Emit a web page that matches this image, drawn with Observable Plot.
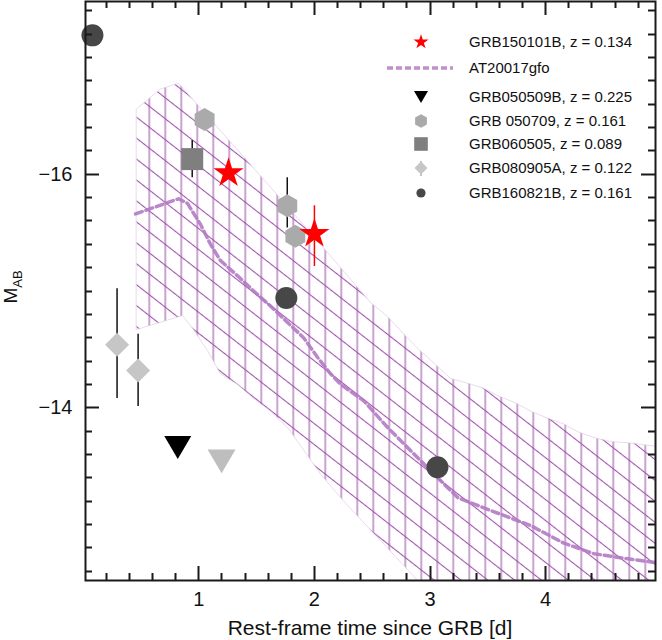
<!DOCTYPE html>
<html>
<head>
<meta charset="utf-8">
<script src="https://cdn.jsdelivr.net/npm/d3@7"></script>
<script src="https://cdn.jsdelivr.net/npm/@observablehq/plot@0.6"></script>
<style>
  html, body { margin: 0; padding: 0; background: #fff; }
  #chart { width: 662px; height: 640px; }
</style>
</head>
<body>
<svg width="0" height="0" style="position:absolute">
  <defs>
    <pattern id="hatchV" patternUnits="userSpaceOnUse" x="-3.2" y="0" width="16" height="16">
      <path d="M8,0V16" stroke="#9e55aa" stroke-width="1.1"/>
    </pattern>
    <pattern id="hatchD" patternUnits="userSpaceOnUse" width="16.5" height="16.5" patternTransform="rotate(38)">
      <path d="M0,8.25H16.5" stroke="#9e55aa" stroke-width="1.1"/>
    </pattern>
  </defs>
</svg>
<div id="chart"></div>
<script>
// ---------- data ----------
// GRB150101B, z = 0.134 (red stars)
const grb150101bT  = [1.257, 2.0];
const grb150101bM  = [-16.01, -15.49];
const grb150101bLo = [null, -15.73];
const grb150101bHi = [null, -15.21];

// GRB050509B, z = 0.225 (down triangle, upper limit) and an extra grey limit
const grb050509bT = [0.818];
const grb050509bM = [-13.66];
const grayLimitT = [1.197];
const grayLimitM = [-13.54];

// GRB 050709, z = 0.161 (hexagons)
const grb050709T  = [1.05, 1.765, 1.835];
const grb050709M  = [-16.47, -15.73, -15.47];
const grb050709Lo = [null, -15.97, null];
const grb050709Hi = [null, -15.54, null];

// GRB060505, z = 0.089 (square)
const grb060505T  = [0.943];
const grb060505M  = [-16.13];
const grb060505Lo = [-16.29];
const grb060505Hi = [-15.97];

// GRB080905A, z = 0.122 (diamonds)
const grb080905aT  = [0.293, 0.475];
const grb080905aM  = [-14.54, -14.32];
const grb080905aLo = [-15.02, -14.63];
const grb080905aHi = [-14.08, -14.01];

// GRB160821B, z = 0.161 (circles)
const grb160821bT = [0.08, 1.757, 3.064];
const grb160821bM = [-17.19, -14.94, -13.49];

// AT2017gfo light curve (dashed)
const at2017gfoT = [0.453, 0.824, 0.902, 1.015, 1.101, 1.188, 1.335, 1.474, 1.621, 1.768, 1.906, 2.028, 2.140, 2.227, 2.426, 2.634, 2.835, 3.065, 3.24, 3.524, 3.871, 4.157, 4.417, 4.677, 4.98];
const at2017gfoM = [-15.66, -15.79, -15.75, -15.57, -15.40, -15.26, -15.13, -15.00, -14.87, -14.73, -14.60, -14.43, -14.29, -14.20, -14.06, -13.83, -13.63, -13.40, -13.23, -13.12, -12.99, -12.84, -12.75, -12.71, -12.67];

// hatched model band: upper and lower edges
const bandUpperT = [0.461, 0.668, 0.824, 1.535, 2.0, 2.487, 2.634, 2.764, 2.902, 3.049, 3.179, 3.326, 3.456, 3.595, 3.742, 3.872, 4.019, 4.157, 4.287, 4.435, 4.565, 4.712, 4.954];
const bandUpperM = [-16.56, -16.73, -16.78, -15.985, -15.46, -14.90, -14.78, -14.64, -14.50, -14.37, -14.25, -14.21, -14.17, -14.10, -14.04, -13.97, -13.91, -13.86, -13.79, -13.74, -13.71, -13.70, -13.67];
const bandLowerT = [0.461, 0.859, 0.946, 1.075, 1.188, 1.335, 1.474, 1.621, 1.768, 1.855, 2.054, 2.253, 2.573, 2.893, 3.179, 3.61, 4.954];
const bandLowerM = [-14.67, -14.79, -14.68, -14.49, -14.29, -14.20, -14.08, -13.97, -13.83, -13.71, -13.43, -13.20, -12.86, -12.52, -12.22, -11.92, -11.49];

// axes
const xDomain = [0.02, 4.95];
const yDomain = [-17.48, -12.52];
const xMajorTicks = [1, 2, 3, 4];
const yMajorTicks = [-16, -14];
const xMinorTicks = [0.2, 0.4, 0.6, 0.8, 1.2, 1.4, 1.6, 1.8, 2.2, 2.4, 2.6, 2.8, 3.2, 3.4, 3.6, 3.8, 4.2, 4.4, 4.6, 4.8];
const yMinorTicks = [-17.4, -17.2, -17.0, -16.8, -16.6, -16.4, -16.2, -15.8, -15.6, -15.4, -15.2, -15.0, -14.8, -14.6, -14.4, -14.2, -13.8, -13.6, -13.4, -13.2, -13.0, -12.8, -12.6];
const xLabel = "Rest-frame time since GRB [d]";
const legendLabels = ["GRB150101B, z = 0.134", "AT20017gfo", "GRB050509B, z = 0.225", "GRB 050709, z = 0.161", "GRB060505, z = 0.089", "GRB080905A, z = 0.122", "GRB160821B, z = 0.161"];

// ---------- helpers ----------
const rows = (t, m, lo, hi) => t.map((d, i) => ({t: d, m: m[i], lo: lo ? lo[i] : null, hi: hi ? hi[i] : null}));
const errs = (r) => r.filter(d => d.lo != null && d.hi != null);

const s150101b = rows(grb150101bT, grb150101bM, grb150101bLo, grb150101bHi);
const s050509b = rows(grb050509bT, grb050509bM);
const sGrayLim = rows(grayLimitT, grayLimitM);
const s050709 = rows(grb050709T, grb050709M, grb050709Lo, grb050709Hi);
const s060505 = rows(grb060505T, grb060505M, grb060505Lo, grb060505Hi);
const s080905a = rows(grb080905aT, grb080905aM, grb080905aLo, grb080905aHi);
const s160821b = rows(grb160821bT, grb160821bM);
const sKilonova = rows(at2017gfoT, at2017gfoM);
const band = [
  ...bandUpperT.map((t, i) => ({t, m: bandUpperM[i]})),
  ...bandLowerT.map((t, i) => ({t, m: bandLowerM[i]})).reverse()
];

// custom symbols (radius r = sqrt(size/PI))
const rOf = size => Math.sqrt(size / Math.PI);
const symHexagon = {draw(c, size) { const r = rOf(size); for (let i = 0; i < 6; i++) { const a = -Math.PI / 2 + i * Math.PI / 3; const x = r * Math.cos(a), y = r * Math.sin(a); if (i) c.lineTo(x, y); else c.moveTo(x, y); } c.closePath(); }};
const symSquare = {draw(c, size) { const r = rOf(size); c.moveTo(-r, -r); c.lineTo(r, -r); c.lineTo(r, r); c.lineTo(-r, r); c.closePath(); }};
const symDiamond = {draw(c, size) { const r = rOf(size); c.moveTo(0, -r); c.lineTo(r, 0); c.lineTo(0, r); c.lineTo(-r, 0); c.closePath(); }};
const symTriDown = {draw(c, size) { const r = rOf(size); c.moveTo(-r, -0.85 * r); c.lineTo(r, -0.85 * r); c.lineTo(0, 0.85 * r); c.closePath(); }};
const symCircle = {draw(c, size) { const r = rOf(size); c.moveTo(r, 0); c.arc(0, 0, r, 0, 2 * Math.PI); c.closePath(); }};

// ---------- layout ----------
const W = 662, H = 640, mL = 85, mR = 7, mT = 1, mB = 60;
const minorLen = 7, majorLen = 14;
const axisColor = "#1a1a1a";
const font = "'Liberation Sans', Arial, Helvetica, sans-serif";
const purple = "#b27ac4";
const fmt = d => (d < 0 ? "\u2212" : "") + Math.abs(d);

const chart = Plot.plot({
  width: W, height: H,
  marginLeft: mL, marginRight: mR, marginTop: mT, marginBottom: mB,
  style: {fontFamily: font, fontSize: "20px", color: "#111", background: "#fff"},
  x: {domain: xDomain, ticks: xMajorTicks, tickSize: 0, tickPadding: 11, label: null, tickFormat: fmt},
  y: {domain: yDomain, reverse: true, ticks: yMajorTicks, tickSize: 0, tickPadding: 13, label: null, tickFormat: fmt},
  marks: [
    // hatched model band
    Plot.line(band, {x: "t", y: "m", curve: "linear-closed", fill: "url(#hatchV)", stroke: "none", clip: true}),
    Plot.line(band, {x: "t", y: "m", curve: "linear-closed", fill: "url(#hatchD)", stroke: "#dcc3e3", strokeWidth: 1, strokeOpacity: 0.6, clip: true}),
    // AT2017gfo
    Plot.line(sKilonova, {x: "t", y: "m", stroke: purple, strokeWidth: 3.5, strokeDasharray: "7,4", strokeOpacity: 0.9, clip: true}),
    // error bars
    Plot.ruleX(errs(s150101b), {x: "t", y1: "lo", y2: "hi", stroke: "#ff0000", strokeWidth: 1.5}),
    Plot.ruleX(errs(s050709), {x: "t", y1: "lo", y2: "hi", stroke: "#111", strokeWidth: 1.5}),
    Plot.ruleX(errs(s060505), {x: "t", y1: "lo", y2: "hi", stroke: "#111", strokeWidth: 1.5}),
    Plot.ruleX(errs(s080905a), {x: "t", y1: "lo", y2: "hi", stroke: "#111", strokeWidth: 1.5}),
    // points
    Plot.dot(s080905a, {x: "t", y: "m", symbol: symDiamond, r: 12, fill: "#c6c6c6", stroke: "none"}),
    Plot.dot(s050509b, {x: "t", y: "m", symbol: symTriDown, r: 13.5, fill: "#000", stroke: "none"}),
    Plot.dot(sGrayLim, {x: "t", y: "m", symbol: symTriDown, r: 14, fill: "#bebebe", stroke: "none"}),
    Plot.dot(s060505, {x: "t", y: "m", symbol: symSquare, r: 11, fill: "#7f7f7f", stroke: "none"}),
    Plot.dot(s050709, {x: "t", y: "m", symbol: symHexagon, r: 11.5, fill: "#aaaaaa", stroke: "none"}),
    Plot.dot(s160821b, {x: "t", y: "m", symbol: symCircle, r: 11, fill: "#474747", stroke: "none"}),
    Plot.dot(s150101b, {x: "t", y: "m", symbol: "star", r: 9.45, fill: "#ff0000", stroke: "none"}),
    Plot.frame({stroke: axisColor, strokeWidth: 2})
  ]
});

document.getElementById("chart").appendChild(chart);

const svg = d3.select(chart);

// ---------- inward ticks on all four sides (positions from Plot's scales) ----------
const xs = chart.scale("x"), ys = chart.scale("y");
const X0 = mL, X1 = W - mR, Y0 = mT, Y1 = H - mB;
let d = "";
const addX = (vals, len) => vals.forEach(v => {
  const px = Math.round(xs.apply(v)) + 0.5;
  d += `M${px},${Y1}V${Y1 - len}M${px},${Y0}V${Y0 + len}`;
});
const addY = (vals, len) => vals.forEach(v => {
  const py = Math.round(ys.apply(v)) + 0.5;
  d += `M${X0},${py}H${X0 + len}M${X1},${py}H${X1 - len}`;
});
addX(xMinorTicks, minorLen); addX(xMajorTicks, majorLen);
addY(yMinorTicks, minorLen); addY(yMajorTicks, majorLen);
svg.append("path").attr("d", d).attr("fill", "none")
  .style("stroke", axisColor).style("stroke-width", "2px");

// ---------- axis titles & legend ----------
svg.append("text")
  .attr("x", (mL + W - mR) / 2).attr("y", 635)
  .attr("text-anchor", "middle")
  .style("font-family", font).style("font-size", "21px").attr("fill", "#111")
  .text(xLabel);

const yl = svg.append("text")
  .attr("transform", "translate(17,287) rotate(-90)")
  .attr("text-anchor", "middle")
  .style("font-family", font).attr("fill", "#111");
yl.append("tspan").style("font-size", "19px").text("M");
yl.append("tspan").style("font-size", "13px").attr("dy", "0.35em").text("AB");

const leg = svg.append("g").style("font-family", font).style("font-size", "15px");
const legY = [42, 68, 97, 121, 144, 168, 193];
const symX = 421, textX = 469;
const sym = (type, r) => d3.symbol().type(type).size(Math.PI * r * r)();

legendLabels.forEach((label, i) => {
  const g = leg.append("g").attr("transform", `translate(${symX},${legY[i]})`);
  if (i === 0) g.append("path").attr("d", sym(d3.symbolStar, 4.7)).attr("fill", "#ff0000");
  if (i === 1) g.append("line").attr("x1", -34).attr("x2", 32).attr("stroke", "#c08fcc").attr("stroke-width", 3.5).attr("stroke-dasharray", "6,3");
  if (i === 2) g.append("path").attr("d", sym(symTriDown, 7)).attr("fill", "#000");
  if (i === 3) g.append("path").attr("d", sym(symHexagon, 6.8)).attr("fill", "#aaaaaa");
  if (i === 4) g.append("path").attr("d", sym(symSquare, 6.8)).attr("fill", "#7f7f7f");
  if (i === 5) {
    g.append("line").attr("y1", -7).attr("y2", 8).attr("stroke", "#888").attr("stroke-width", 1);
    g.append("path").attr("d", sym(symDiamond, 6.5)).attr("fill", "#c6c6c6");
  }
  if (i === 6) g.append("path").attr("d", sym(symCircle, 4.6)).attr("fill", "#474747");
  leg.append("text").attr("x", textX).attr("y", legY[i]).attr("dy", "0.35em")
    .attr("text-anchor", "start").attr("fill", "#111").text(label);
});
</script>
</body>
</html>
